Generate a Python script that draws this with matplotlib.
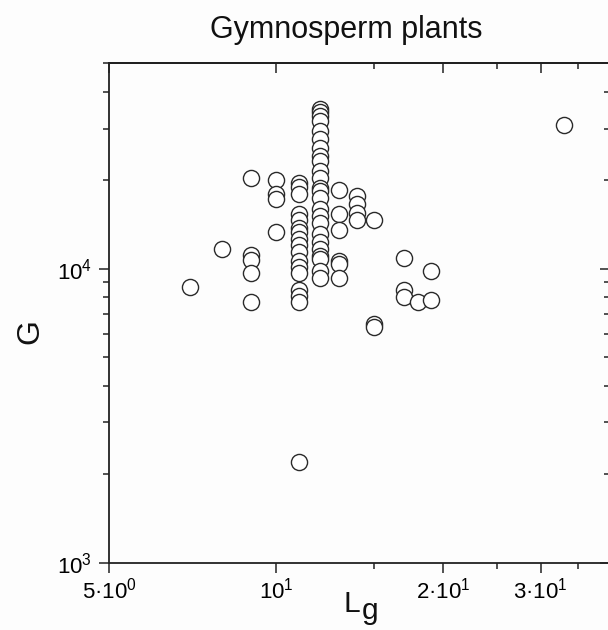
import matplotlib
matplotlib.use('Agg')
import matplotlib.pyplot as plt
from matplotlib.ticker import FixedLocator, NullFormatter, LogLocator

plt.rcParams['font.family'] = ['Liberation Sans', 'DejaVu Sans']
plt.rcParams['mathtext.fontset'] = 'custom'
plt.rcParams['mathtext.rm'] = 'Liberation Sans'
plt.rcParams['mathtext.it'] = 'Liberation Sans:italic'

# L_g and G, column by column
lg_values = ([7, 8]
             + [9] * 5
             + [10] * 4
             + [11] * 17
             + [12] * 24
             + [13] * 6
             + [14] * 4
             + [15] * 3
             + [17] * 3
             + [18, 19, 19, 33])
g_values = ([8700, 11700]
            + [20400, 11100, 10700, 9700, 7700]
            + [20000, 17900, 17300, 13300]
            + [19600, 18900, 17900, 15300, 14600, 13800, 13300, 12600, 12000,
               11400, 10600, 10100, 9700, 8500, 8100, 7700, 2200]
            + [34900, 34100, 33000, 31800, 29400, 27600, 25700, 24200, 23200,
               21500, 20400, 18800, 18400, 17400, 16000, 15100, 14300, 13150,
               12350, 11700, 11050, 10800, 9850, 9300]
            + [18500, 15300, 13500, 10600, 10400, 9300]
            + [17700, 16600, 15500, 14700]
            + [14700, 6500, 6350]
            + [10900, 8500, 8000]
            + [7700, 7800, 9800, 30800])

x_major = [5, 10, 20, 30]
x_major_labels = ['$\\mathregular{5·10^{0}}$', '$\\mathregular{10^{1}}$',
                  '$\\mathregular{2·10^{1}}$', '$\\mathregular{3·10^{1}}$']
x_minor = [15, 25, 35]
y_major = [1e3, 1e4]
y_major_labels = ['$\\mathregular{10^{3}}$', '$\\mathregular{10^{4}}$']

fig = plt.figure(figsize=(6.08, 6.3), dpi=100, facecolor='#fdfdfd')
ax = fig.add_axes([109.3 / 608, 1 - 562.7 / 630, (610 - 109.3) / 608, (562.7 - 63.3) / 630])
ax.set_facecolor('#fdfdfd')

ax.scatter(lg_values, g_values, s=135, facecolor='white', edgecolor='#2a2a2a',
           linewidth=1.0, zorder=3, clip_on=False)

ax.set_xscale('log')
ax.set_yscale('log')
ax.set_xlim(5, 40)
ax.set_ylim(1e3, 5e4)

ax.xaxis.set_major_locator(FixedLocator(x_major))
ax.xaxis.set_ticklabels(x_major_labels)
ax.xaxis.set_minor_locator(FixedLocator(x_minor))
ax.xaxis.set_minor_formatter(NullFormatter())
ax.yaxis.set_major_locator(FixedLocator(y_major))
ax.yaxis.set_ticklabels(y_major_labels)
ax.yaxis.set_minor_locator(LogLocator(base=10, subs=range(2, 10)))
ax.yaxis.set_minor_formatter(NullFormatter())

ax.tick_params(which='major', direction='out', length=7.5, width=1.1,
               labelsize=16, color='#222222')
ax.tick_params(axis='x', which='major', pad=3)
ax.tick_params(axis='y', which='major', pad=5)
ax.tick_params(which='minor', direction='out', length=4, width=1.1, color='#222222')
for sp in ax.spines.values():
    sp.set_linewidth(1.3)
    sp.set_color('#222222')

# top and right ticks point inward
top = ax.secondary_xaxis('top')
top.xaxis.set_major_locator(FixedLocator(x_major))
top.xaxis.set_minor_locator(FixedLocator(x_minor))
top.xaxis.set_major_formatter(NullFormatter())
top.xaxis.set_minor_formatter(NullFormatter())
top.tick_params(which='major', direction='in', length=7.5, width=1.1, color='#222222')
top.tick_params(which='minor', direction='in', length=4, width=1.1, color='#222222')
top.spines['top'].set_linewidth(1.3)

right = ax.secondary_yaxis('right')
right.yaxis.set_major_locator(FixedLocator(y_major))
right.yaxis.set_minor_locator(LogLocator(base=10, subs=range(2, 10)))
right.yaxis.set_major_formatter(NullFormatter())
right.yaxis.set_minor_formatter(NullFormatter())
right.tick_params(which='major', direction='in', length=7.5, width=1.1, color='#222222')
right.tick_params(which='minor', direction='in', length=4, width=1.1, color='#222222')

fig.text(346 / 608, 1 - 38 / 630, 'Gymnosperm plants', ha='center', va='baseline',
         fontsize=22, color='#111111')
fig.text(30 / 608, 1 - 332 / 630, 'G', rotation=90, ha='center', va='center',
         fontsize=23, color='#111111')
fig.text(343 / 608, 1 - 612 / 630, 'L', ha='left', va='baseline', fontsize=21.5,
         color='#111111')
fig.text(362 / 608, 1 - 619 / 630, 'g', ha='left', va='baseline', fontsize=21.5,
         color='#111111')

fig.savefig('out.png', dpi=100, facecolor=fig.get_facecolor())
